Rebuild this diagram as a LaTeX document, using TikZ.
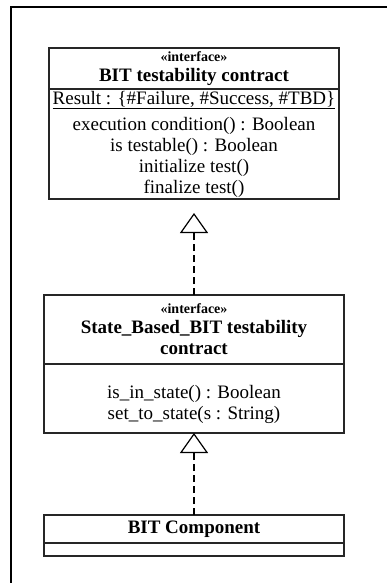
\documentclass[tikz,border=0pt]{standalone}
\usepackage{fontspec}
\setmainfont{Liberation Serif}
\usetikzlibrary{arrows.meta,positioning}

\newcommand{\umlstereo}[1]{{\fontsize{14}{16}\selectfont\bfseries «#1»}}

\tikzset{
  compartment/.style={draw=black!85, line width=1.4pt, inner sep=0pt, outer sep=0pt,
    align=center, font=\fontsize{19}{21}\selectfont},
  realize/.style={line width=1.2pt, dash pattern=on 7pt off 4pt,
    -{Triangle[open, length=20pt, width=28pt, line width=1.2pt]}}
}

\begin{document}
\begin{tikzpicture}[x=1pt, y=-1pt]
   \useasboundingbox (0,0) rectangle (387,583);
   % frame
   \draw[line width=2pt] (11,584) -- (11,7.5) -- (388,7.5);
   % interface BIT testability contract
   \node (contracthead) [compartment, minimum width=290pt, minimum height=41pt, anchor=north]
      at (194,48) {\umlstereo{interface}\\[-1pt]\textbf{BIT testability contract}};
   \node (contractbody) [compartment, minimum width=290pt, minimum height=110pt, below=0pt of contracthead]
      {\underline{Result : \{\#Failure, \#Success, \#TBD\}}\\[5pt]
       execution condition() : Boolean\\
       is testable() : Boolean\\
       initialize test()\\
       finalize test()};
   % interface State_Based_BIT testability contract
   \node (statehead) [compartment, minimum width=300pt, minimum height=69pt, anchor=north]
      at (194,295) {\umlstereo{interface}\\[-1pt]\textbf{State\_Based\_BIT testability}\\\textbf{contract}};
   \node (statebody) [compartment, minimum width=300pt, minimum height=69pt, below=0pt of statehead]
      {\rule{0pt}{26pt}is\_in\_state() : Boolean\\
       set\_to\_state(s : String)};
   % BIT Component
   \node (comphead) [compartment, minimum width=300pt, minimum height=28pt, anchor=north]
      at (194,515) {\textbf{BIT Component}};
   \node (compbody) [compartment, minimum width=300pt, minimum height=13pt, below=0pt of comphead] {};
   % realizations
   \draw[realize, shorten >=14pt] (statehead) -- (contractbody);
   \draw[realize] (comphead) -- (statebody);
\end{tikzpicture}
\end{document}
